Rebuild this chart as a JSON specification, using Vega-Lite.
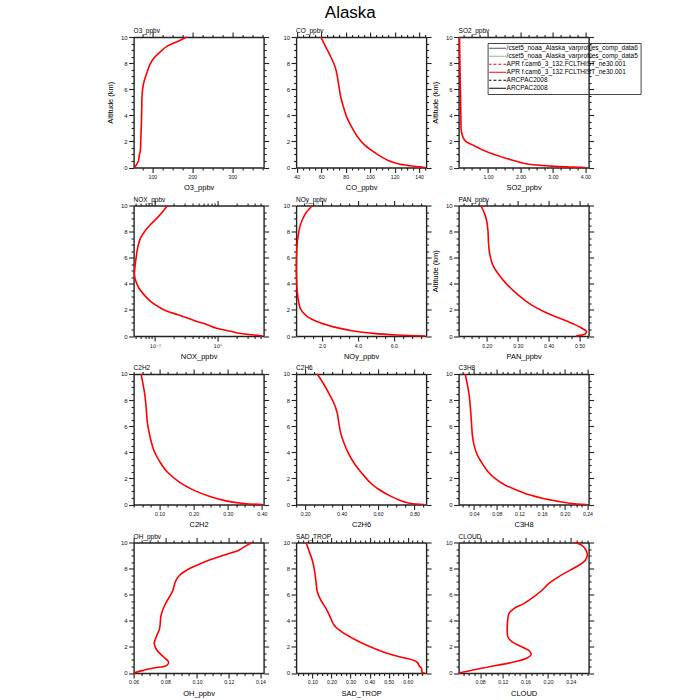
{
  "$schema": "https://vega.github.io/schema/vega-lite/v6.json",
  "title": {"text": "Alaska", "fontSize": 17, "anchor": "middle", "frame": "group", "dx": 216.7, "offset": 6},
  "padding": {"left": 105.6, "top": 4, "right": 5, "bottom": 2},
  "columns": 3,
  "spacing": {"row": 37.5, "column": 32.5},
  "bounds": "flush",
  "concat": [
    {
      "width": 130, "height": 130.5, "title": "O3_ppbv",
      "data": {"values": [
        {"alt": 0, "v": 55}, {"alt": 0.15, "v": 59}, {"alt": 0.5, "v": 65}, {"alt": 1, "v": 67.6}, {"alt": 1.3, "v": 70},
        {"alt": 2, "v": 70.8}, {"alt": 2.8, "v": 71.8}, {"alt": 3.7, "v": 72.8}, {"alt": 4.6, "v": 73.4}, {"alt": 5.6, "v": 74.3},
        {"alt": 6.4, "v": 77.6}, {"alt": 7.15, "v": 85}, {"alt": 7.9, "v": 94}, {"alt": 8.4, "v": 104}, {"alt": 8.9, "v": 121},
        {"alt": 9.3, "v": 137}, {"alt": 9.7, "v": 166}, {"alt": 10, "v": 185.5}
      ]},
      "layer": [
        {"mark": {"type": "line", "color": "#ff0000", "strokeWidth": 1.6, "interpolate": "catmull-rom"},
         "encoding": {
           "x": {"field": "v", "type": "quantitative", "scale": {"domain": [53, 378], "nice": false, "zero": false},
                 "axis": {"title": "O3_ppbv", "values": [75,100,125,150,175,200,225,250,275,300,325,350,375],
                          "labelExpr": "datum.value % 100 === 0 ? format(datum.value, 'd') : ''",
                          "tickSize": {"condition": {"test": "datum.value % 100 === 0", "value": 5}, "value": 2.5}}},
           "y": {"field": "alt", "type": "quantitative", "scale": {"domain": [0, 10], "nice": false},
                 "axis": {"title": "Altitude (km)", "values": [0,0.5,1,1.5,2,2.5,3,3.5,4,4.5,5,5.5,6,6.5,7,7.5,8,8.5,9,9.5,10],
                          "labelExpr": "datum.value % 2 === 0 ? format(datum.value, 'd') : ''",
                          "tickSize": {"condition": {"test": "datum.value % 2 === 0", "value": 5}, "value": 2.5}}},
           "order": {"field": "alt", "type": "quantitative"}
         }},
        {"mark": {"type": "line", "opacity": 0},
         "encoding": {
           "x": {"field": "v", "type": "quantitative",
                 "axis": {"orient": "top", "labels": false, "title": null, "values": [75,100,125,150,175,200,225,250,275,300,325,350,375],
                          "tickSize": {"condition": {"test": "datum.value % 100 === 0", "value": 5}, "value": 2.5}}},
           "y": {"field": "alt", "type": "quantitative",
                 "axis": {"orient": "right", "labels": false, "title": null, "values": [0,0.5,1,1.5,2,2.5,3,3.5,4,4.5,5,5.5,6,6.5,7,7.5,8,8.5,9,9.5,10],
                          "tickSize": {"condition": {"test": "datum.value % 2 === 0", "value": 5}, "value": 2.5}}},
           "order": {"field": "alt", "type": "quantitative"}
         }}
      ],
      "resolve": {"axis": {"x": "independent", "y": "independent"}}
    },
    {
      "width": 130, "height": 130.5, "title": "CO_ppbv",
      "data": {"values": [
        {"alt": 0, "v": 144.8}, {"alt": 0.05, "v": 140.5}, {"alt": 0.13, "v": 132.4}, {"alt": 0.28, "v": 122.9}, {"alt": 0.54, "v": 114.7},
        {"alt": 1.05, "v": 105.3}, {"alt": 1.69, "v": 95.8}, {"alt": 2.33, "v": 89.8}, {"alt": 3.1, "v": 84.9}, {"alt": 3.86, "v": 80.9},
        {"alt": 4.63, "v": 78.2}, {"alt": 5.4, "v": 76}, {"alt": 6.16, "v": 74.6}, {"alt": 6.93, "v": 73.3}, {"alt": 7.7, "v": 71.4},
        {"alt": 8.47, "v": 67.9}, {"alt": 9.23, "v": 63.8}, {"alt": 10, "v": 59.7}
      ]},
      "layer": [
        {"mark": {"type": "line", "color": "#ff0000", "strokeWidth": 1.6, "interpolate": "catmull-rom"},
         "encoding": {
           "x": {"field": "v", "type": "quantitative", "scale": {"domain": [39.5, 145.7], "nice": false, "zero": false},
                 "axis": {"title": "CO_ppbv", "values": [40,45,50,55,60,65,70,75,80,85,90,95,100,105,110,115,120,125,130,135,140,145],
                          "labelExpr": "datum.value % 20 === 0 ? format(datum.value, 'd') : ''",
                          "tickSize": {"condition": {"test": "datum.value % 20 === 0", "value": 5}, "value": 2.5}}},
           "y": {"field": "alt", "type": "quantitative", "scale": {"domain": [0, 10], "nice": false},
                 "axis": {"title": null, "values": [0,0.5,1,1.5,2,2.5,3,3.5,4,4.5,5,5.5,6,6.5,7,7.5,8,8.5,9,9.5,10],
                          "labelExpr": "datum.value % 2 === 0 ? format(datum.value, 'd') : ''",
                          "tickSize": {"condition": {"test": "datum.value % 2 === 0", "value": 5}, "value": 2.5}}},
           "order": {"field": "alt", "type": "quantitative"}
         }},
        {"mark": {"type": "line", "opacity": 0},
         "encoding": {
           "x": {"field": "v", "type": "quantitative",
                 "axis": {"orient": "top", "labels": false, "title": null, "values": [40,45,50,55,60,65,70,75,80,85,90,95,100,105,110,115,120,125,130,135,140,145],
                          "tickSize": {"condition": {"test": "datum.value % 20 === 0", "value": 5}, "value": 2.5}}},
           "y": {"field": "alt", "type": "quantitative",
                 "axis": {"orient": "right", "labels": false, "title": null, "values": [0,0.5,1,1.5,2,2.5,3,3.5,4,4.5,5,5.5,6,6.5,7,7.5,8,8.5,9,9.5,10],
                          "tickSize": {"condition": {"test": "datum.value % 2 === 0", "value": 5}, "value": 2.5}}},
           "order": {"field": "alt", "type": "quantitative"}
         }}
      ],
      "resolve": {"axis": {"x": "independent", "y": "independent"}}
    },
    {
      "width": 130, "height": 130.5, "title": "SO2_ppbv",
      "data": {"values": [
        {"run": "APR f.cam6_3_132.FCLTHIST_ne30.001", "alt": 0, "v": 3.99},
        {"run": "APR f.cam6_3_132.FCLTHIST_ne30.001", "alt": 0.05, "v": 3.43},
        {"run": "APR f.cam6_3_132.FCLTHIST_ne30.001", "alt": 0.13, "v": 2.82},
        {"run": "APR f.cam6_3_132.FCLTHIST_ne30.001", "alt": 0.28, "v": 2.2},
        {"run": "APR f.cam6_3_132.FCLTHIST_ne30.001", "alt": 0.53, "v": 1.8},
        {"run": "APR f.cam6_3_132.FCLTHIST_ne30.001", "alt": 0.92, "v": 1.29},
        {"run": "APR f.cam6_3_132.FCLTHIST_ne30.001", "alt": 1.3, "v": 0.88},
        {"run": "APR f.cam6_3_132.FCLTHIST_ne30.001", "alt": 1.68, "v": 0.57},
        {"run": "APR f.cam6_3_132.FCLTHIST_ne30.001", "alt": 2.0, "v": 0.32},
        {"run": "APR f.cam6_3_132.FCLTHIST_ne30.001", "alt": 2.3, "v": 0.235},
        {"run": "APR f.cam6_3_132.FCLTHIST_ne30.001", "alt": 2.8, "v": 0.18},
        {"run": "APR f.cam6_3_132.FCLTHIST_ne30.001", "alt": 4, "v": 0.165},
        {"run": "APR f.cam6_3_132.FCLTHIST_ne30.001", "alt": 6, "v": 0.15},
        {"run": "APR f.cam6_3_132.FCLTHIST_ne30.001", "alt": 8, "v": 0.135},
        {"run": "APR f.cam6_3_132.FCLTHIST_ne30.001", "alt": 10, "v": 0.122}
      ]},
      "layer": [
        {"mark": {"type": "line", "strokeWidth": 1.6, "interpolate": "catmull-rom"},
         "encoding": {
           "x": {"field": "v", "type": "quantitative", "scale": {"domain": [0.095, 4.1], "nice": false, "zero": false},
                 "axis": {"title": "SO2_ppbv", "values": [0.25,0.5,0.75,1,1.25,1.5,1.75,2,2.25,2.5,2.75,3,3.25,3.5,3.75,4],
                          "labelExpr": "datum.value % 1 === 0 ? format(datum.value, '.2f') : ''",
                          "tickSize": {"condition": {"test": "datum.value % 1 === 0", "value": 5}, "value": 2.5}}},
           "y": {"field": "alt", "type": "quantitative", "scale": {"domain": [0, 10], "nice": false},
                 "axis": {"title": "Altitude (km)", "values": [0,0.5,1,1.5,2,2.5,3,3.5,4,4.5,5,5.5,6,6.5,7,7.5,8,8.5,9,9.5,10],
                          "labelExpr": "datum.value % 2 === 0 ? format(datum.value, 'd') : ''",
                          "tickSize": {"condition": {"test": "datum.value % 2 === 0", "value": 5}, "value": 2.5}}},
           "order": {"field": "alt", "type": "quantitative"},
           "color": {"field": "run", "type": "nominal",
                     "scale": {"domain": ["/cset5_noaa_Alaska_varprofiles_comp_data6", "/cset5_noaa_Alaska_varprofiles_comp_data5", "APR f.cam6_3_132.FCLTHIST_ne30.001 (dashed)", "APR f.cam6_3_132.FCLTHIST_ne30.001", "ARCPAC2008 (dashed)", "ARCPAC2008"],
                               "range": ["#555555", "#aaaaaa", "#ff0000", "#ff0000", "#000000", "#000000"]},
                     "legend": {"orient": "none", "legendX": 354, "legendY": 6, "title": null, "symbolType": "M-4.4,0H4.4", "symbolSize": 16, "symbolStrokeWidth": 1.1,
                                "labelFontSize": 6.5, "labelLimit": 0, "padding": 1.5, "rowPadding": -1.7, "clipHeight": 7.5, "strokeColor": "#444", "symbolOffset": 4.85, "labelOffset": 6.15,
                                "labelExpr": "replace(datum.label, ' (dashed)', '')"}},
           "strokeDash": {"field": "run", "type": "nominal",
                     "scale": {"domain": ["/cset5_noaa_Alaska_varprofiles_comp_data6", "/cset5_noaa_Alaska_varprofiles_comp_data5", "APR f.cam6_3_132.FCLTHIST_ne30.001 (dashed)", "APR f.cam6_3_132.FCLTHIST_ne30.001", "ARCPAC2008 (dashed)", "ARCPAC2008"],
                               "range": [[1, 0], [1, 0], [3, 2], [1, 0], [3, 2], [1, 0]]},
                     "legend": {"orient": "none", "legendX": 354, "legendY": 6, "title": null, "symbolType": "M-4.4,0H4.4", "symbolSize": 16, "symbolStrokeWidth": 1.1,
                                "labelFontSize": 6.5, "labelLimit": 0, "padding": 1.5, "rowPadding": -1.7, "clipHeight": 7.5, "strokeColor": "#444", "symbolOffset": 4.85, "labelOffset": 6.15,
                                "labelExpr": "replace(datum.label, ' (dashed)', '')"}}
         }},
        {"mark": {"type": "line", "opacity": 0},
         "encoding": {
           "x": {"field": "v", "type": "quantitative",
                 "axis": {"orient": "top", "labels": false, "title": null, "values": [0.25,0.5,0.75,1,1.25,1.5,1.75,2,2.25,2.5,2.75,3,3.25,3.5,3.75,4],
                          "tickSize": {"condition": {"test": "datum.value % 1 === 0", "value": 5}, "value": 2.5}}},
           "y": {"field": "alt", "type": "quantitative",
                 "axis": {"orient": "right", "labels": false, "title": null, "values": [0,0.5,1,1.5,2,2.5,3,3.5,4,4.5,5,5.5,6,6.5,7,7.5,8,8.5,9,9.5,10],
                          "tickSize": {"condition": {"test": "datum.value % 2 === 0", "value": 5}, "value": 2.5}}},
           "order": {"field": "alt", "type": "quantitative"}
         }}
      ],
      "resolve": {"axis": {"x": "independent", "y": "independent"}}
    },
    {
      "width": 130, "height": 130.5, "title": "NOX_ppbv",
      "data": {"values": [
        {"alt": 0, "v": 5.3}, {"alt": 0.05, "v": 4.4}, {"alt": 0.23, "v": 2.1}, {"alt": 0.36, "v": 1.64}, {"alt": 0.61, "v": 0.95},
        {"alt": 0.87, "v": 0.69}, {"alt": 1.13, "v": 0.46}, {"alt": 1.38, "v": 0.33}, {"alt": 1.64, "v": 0.23}, {"alt": 1.9, "v": 0.158},
        {"alt": 2.15, "v": 0.123}, {"alt": 2.66, "v": 0.085}, {"alt": 3.17, "v": 0.0667}, {"alt": 3.68, "v": 0.0553}, {"alt": 4.19, "v": 0.0496},
        {"alt": 4.7, "v": 0.047}, {"alt": 5.2, "v": 0.0477}, {"alt": 5.98, "v": 0.05}, {"alt": 6.75, "v": 0.053}, {"alt": 7.52, "v": 0.059},
        {"alt": 8.03, "v": 0.069}, {"alt": 8.54, "v": 0.085}, {"alt": 9.05, "v": 0.109}, {"alt": 9.57, "v": 0.136}, {"alt": 10, "v": 0.158}
      ]},
      "layer": [
        {"mark": {"type": "line", "color": "#ff0000", "strokeWidth": 1.6, "interpolate": "catmull-rom"},
         "encoding": {
           "x": {"field": "v", "type": "quantitative", "scale": {"type": "log", "domain": [0.0456, 5.5], "nice": false},
                 "axis": {"title": "NOX_ppbv", "labelFont": "DejaVu Sans", "values": [0.05,0.06,0.07,0.08,0.09,0.1,0.2,0.3,0.4,0.5,0.6,0.7,0.8,0.9,1,2,3,4,5],
                          "labelExpr": "datum.value === 0.1 ? '10⁻¹' : datum.value === 1 ? '10⁰' : ''",
                          "tickSize": {"condition": {"test": "datum.value === 0.1 || datum.value === 1", "value": 5}, "value": 2.5}}},
           "y": {"field": "alt", "type": "quantitative", "scale": {"domain": [0, 10], "nice": false},
                 "axis": {"title": null, "values": [0,0.5,1,1.5,2,2.5,3,3.5,4,4.5,5,5.5,6,6.5,7,7.5,8,8.5,9,9.5,10],
                          "labelExpr": "datum.value % 2 === 0 ? format(datum.value, 'd') : ''",
                          "tickSize": {"condition": {"test": "datum.value % 2 === 0", "value": 5}, "value": 2.5}}},
           "order": {"field": "alt", "type": "quantitative"}
         }},
        {"mark": {"type": "line", "opacity": 0},
         "encoding": {
           "x": {"field": "v", "type": "quantitative",
                 "axis": {"orient": "top", "labels": false, "title": null, "values": [0.05,0.06,0.07,0.08,0.09,0.1,0.2,0.3,0.4,0.5,0.6,0.7,0.8,0.9,1,2,3,4,5],
                          "tickSize": {"condition": {"test": "datum.value === 0.1 || datum.value === 1", "value": 5}, "value": 2.5}}},
           "y": {"field": "alt", "type": "quantitative",
                 "axis": {"orient": "right", "labels": false, "title": null, "values": [0,0.5,1,1.5,2,2.5,3,3.5,4,4.5,5,5.5,6,6.5,7,7.5,8,8.5,9,9.5,10],
                          "tickSize": {"condition": {"test": "datum.value % 2 === 0", "value": 5}, "value": 2.5}}},
           "order": {"field": "alt", "type": "quantitative"}
         }}
      ],
      "resolve": {"axis": {"x": "independent", "y": "independent"}}
    },
    {
      "width": 130, "height": 130.5, "title": "NOy_ppbv",
      "data": {"values": [
        {"alt": 0, "v": 7.75}, {"alt": 0.08, "v": 6.17}, {"alt": 0.2, "v": 4.87}, {"alt": 0.38, "v": 3.75}, {"alt": 0.64, "v": 2.82},
        {"alt": 1.02, "v": 1.89}, {"alt": 1.53, "v": 1.14}, {"alt": 2.04, "v": 0.81}, {"alt": 2.55, "v": 0.7}, {"alt": 3.32, "v": 0.62},
        {"alt": 4.6, "v": 0.567}, {"alt": 5.87, "v": 0.567}, {"alt": 6.89, "v": 0.6}, {"alt": 7.65, "v": 0.66}, {"alt": 8.42, "v": 0.77},
        {"alt": 8.93, "v": 0.9}, {"alt": 9.44, "v": 1.107}, {"alt": 10, "v": 1.46}
      ]},
      "layer": [
        {"mark": {"type": "line", "color": "#ff0000", "strokeWidth": 1.6, "interpolate": "catmull-rom"},
         "encoding": {
           "x": {"field": "v", "type": "quantitative", "scale": {"domain": [0.55, 7.8], "nice": false, "zero": false},
                 "axis": {"title": "NOy_ppbv", "values": [1,1.5,2,2.5,3,3.5,4,4.5,5,5.5,6,6.5,7,7.5],
                          "labelExpr": "datum.value % 2 === 0 ? format(datum.value, '.1f') : ''",
                          "tickSize": {"condition": {"test": "datum.value % 2 === 0", "value": 5}, "value": 2.5}}},
           "y": {"field": "alt", "type": "quantitative", "scale": {"domain": [0, 10], "nice": false},
                 "axis": {"title": null, "values": [0,0.5,1,1.5,2,2.5,3,3.5,4,4.5,5,5.5,6,6.5,7,7.5,8,8.5,9,9.5,10],
                          "labelExpr": "datum.value % 2 === 0 ? format(datum.value, 'd') : ''",
                          "tickSize": {"condition": {"test": "datum.value % 2 === 0", "value": 5}, "value": 2.5}}},
           "order": {"field": "alt", "type": "quantitative"}
         }},
        {"mark": {"type": "line", "opacity": 0},
         "encoding": {
           "x": {"field": "v", "type": "quantitative",
                 "axis": {"orient": "top", "labels": false, "title": null, "values": [1,1.5,2,2.5,3,3.5,4,4.5,5,5.5,6,6.5,7,7.5],
                          "tickSize": {"condition": {"test": "datum.value % 2 === 0", "value": 5}, "value": 2.5}}},
           "y": {"field": "alt", "type": "quantitative",
                 "axis": {"orient": "right", "labels": false, "title": null, "values": [0,0.5,1,1.5,2,2.5,3,3.5,4,4.5,5,5.5,6,6.5,7,7.5,8,8.5,9,9.5,10],
                          "tickSize": {"condition": {"test": "datum.value % 2 === 0", "value": 5}, "value": 2.5}}},
           "order": {"field": "alt", "type": "quantitative"}
         }}
      ],
      "resolve": {"axis": {"x": "independent", "y": "independent"}}
    },
    {
      "width": 130, "height": 130.5, "title": "PAN_ppbv",
      "data": {"values": [
        {"alt": 0, "v": 0.488}, {"alt": 0.05, "v": 0.5}, {"alt": 0.15, "v": 0.517}, {"alt": 0.36, "v": 0.522}, {"alt": 0.61, "v": 0.506},
        {"alt": 0.87, "v": 0.485}, {"alt": 1.25, "v": 0.448}, {"alt": 1.76, "v": 0.394}, {"alt": 2.4, "v": 0.343}, {"alt": 3.17, "v": 0.3},
        {"alt": 3.94, "v": 0.266}, {"alt": 4.7, "v": 0.239}, {"alt": 5.47, "v": 0.219}, {"alt": 6.24, "v": 0.21}, {"alt": 7.0, "v": 0.206},
        {"alt": 8.03, "v": 0.204}, {"alt": 8.8, "v": 0.2}, {"alt": 9.3, "v": 0.194}, {"alt": 10, "v": 0.181}
      ]},
      "layer": [
        {"mark": {"type": "line", "color": "#ff0000", "strokeWidth": 1.6, "interpolate": "catmull-rom"},
         "encoding": {
           "x": {"field": "v", "type": "quantitative", "scale": {"domain": [0.109, 0.529], "nice": false, "zero": false},
                 "axis": {"title": "PAN_ppbv", "values": [0.125,0.15,0.175,0.2,0.225,0.25,0.275,0.3,0.325,0.35,0.375,0.4,0.425,0.45,0.475,0.5,0.525],
                          "labelExpr": "abs(datum.value*10 - round(datum.value*10)) < 1e-6 ? format(datum.value, '.2f') : ''",
                          "tickSize": {"condition": {"test": "abs(datum.value*10 - round(datum.value*10)) < 1e-6", "value": 5}, "value": 2.5}}},
           "y": {"field": "alt", "type": "quantitative", "scale": {"domain": [0, 10], "nice": false},
                 "axis": {"title": "Altitude (km)", "values": [0,0.5,1,1.5,2,2.5,3,3.5,4,4.5,5,5.5,6,6.5,7,7.5,8,8.5,9,9.5,10],
                          "labelExpr": "datum.value % 2 === 0 ? format(datum.value, 'd') : ''",
                          "tickSize": {"condition": {"test": "datum.value % 2 === 0", "value": 5}, "value": 2.5}}},
           "order": {"field": "alt", "type": "quantitative"}
         }},
        {"mark": {"type": "line", "opacity": 0},
         "encoding": {
           "x": {"field": "v", "type": "quantitative",
                 "axis": {"orient": "top", "labels": false, "title": null, "values": [0.125,0.15,0.175,0.2,0.225,0.25,0.275,0.3,0.325,0.35,0.375,0.4,0.425,0.45,0.475,0.5,0.525],
                          "tickSize": {"condition": {"test": "abs(datum.value*10 - round(datum.value*10)) < 1e-6", "value": 5}, "value": 2.5}}},
           "y": {"field": "alt", "type": "quantitative",
                 "axis": {"orient": "right", "labels": false, "title": null, "values": [0,0.5,1,1.5,2,2.5,3,3.5,4,4.5,5,5.5,6,6.5,7,7.5,8,8.5,9,9.5,10],
                          "tickSize": {"condition": {"test": "datum.value % 2 === 0", "value": 5}, "value": 2.5}}},
           "order": {"field": "alt", "type": "quantitative"}
         }}
      ],
      "resolve": {"axis": {"x": "independent", "y": "independent"}}
    },
    {
      "width": 130, "height": 130.5, "title": "C2H2",
      "data": {"values": [
        {"alt": 0, "v": 0.401}, {"alt": 0.08, "v": 0.347}, {"alt": 0.26, "v": 0.298}, {"alt": 0.59, "v": 0.25}, {"alt": 1.1, "v": 0.2},
        {"alt": 1.74, "v": 0.157}, {"alt": 2.51, "v": 0.122}, {"alt": 3.27, "v": 0.101}, {"alt": 4.04, "v": 0.085}, {"alt": 4.81, "v": 0.0756},
        {"alt": 5.58, "v": 0.069}, {"alt": 6.34, "v": 0.064}, {"alt": 7.37, "v": 0.061}, {"alt": 8.39, "v": 0.057}, {"alt": 9.16, "v": 0.052},
        {"alt": 10, "v": 0.046}
      ]},
      "layer": [
        {"mark": {"type": "line", "color": "#ff0000", "strokeWidth": 1.6, "interpolate": "catmull-rom"},
         "encoding": {
           "x": {"field": "v", "type": "quantitative", "scale": {"domain": [0.024, 0.405], "nice": false, "zero": false},
                 "axis": {"title": "C2H2", "values": [0.025,0.05,0.075,0.1,0.125,0.15,0.175,0.2,0.225,0.25,0.275,0.3,0.325,0.35,0.375,0.4],
                          "labelExpr": "abs(datum.value*10 - round(datum.value*10)) < 1e-6 ? format(datum.value, '.2f') : ''",
                          "tickSize": {"condition": {"test": "abs(datum.value*10 - round(datum.value*10)) < 1e-6", "value": 5}, "value": 2.5}}},
           "y": {"field": "alt", "type": "quantitative", "scale": {"domain": [0, 10], "nice": false},
                 "axis": {"title": null, "values": [0,0.5,1,1.5,2,2.5,3,3.5,4,4.5,5,5.5,6,6.5,7,7.5,8,8.5,9,9.5,10],
                          "labelExpr": "datum.value % 2 === 0 ? format(datum.value, 'd') : ''",
                          "tickSize": {"condition": {"test": "datum.value % 2 === 0", "value": 5}, "value": 2.5}}},
           "order": {"field": "alt", "type": "quantitative"}
         }},
        {"mark": {"type": "line", "opacity": 0},
         "encoding": {
           "x": {"field": "v", "type": "quantitative",
                 "axis": {"orient": "top", "labels": false, "title": null, "values": [0.025,0.05,0.075,0.1,0.125,0.15,0.175,0.2,0.225,0.25,0.275,0.3,0.325,0.35,0.375,0.4],
                          "tickSize": {"condition": {"test": "abs(datum.value*10 - round(datum.value*10)) < 1e-6", "value": 5}, "value": 2.5}}},
           "y": {"field": "alt", "type": "quantitative",
                 "axis": {"orient": "right", "labels": false, "title": null, "values": [0,0.5,1,1.5,2,2.5,3,3.5,4,4.5,5,5.5,6,6.5,7,7.5,8,8.5,9,9.5,10],
                          "tickSize": {"condition": {"test": "datum.value % 2 === 0", "value": 5}, "value": 2.5}}},
           "order": {"field": "alt", "type": "quantitative"}
         }}
      ],
      "resolve": {"axis": {"x": "independent", "y": "independent"}}
    },
    {
      "width": 130, "height": 130.5, "title": "C2H6",
      "data": {"values": [
        {"alt": 0, "v": 0.852}, {"alt": 0.08, "v": 0.779}, {"alt": 0.25, "v": 0.733}, {"alt": 0.64, "v": 0.669}, {"alt": 1.15, "v": 0.605},
        {"alt": 1.65, "v": 0.559}, {"alt": 2.42, "v": 0.51}, {"alt": 3.18, "v": 0.468}, {"alt": 3.94, "v": 0.437}, {"alt": 4.71, "v": 0.413},
        {"alt": 5.47, "v": 0.395}, {"alt": 6.23, "v": 0.385}, {"alt": 7.0, "v": 0.376}, {"alt": 7.76, "v": 0.358}, {"alt": 8.52, "v": 0.33},
        {"alt": 9.29, "v": 0.299}, {"alt": 10, "v": 0.266}
      ]},
      "layer": [
        {"mark": {"type": "line", "color": "#ff0000", "strokeWidth": 1.6, "interpolate": "catmull-rom"},
         "encoding": {
           "x": {"field": "v", "type": "quantitative", "scale": {"domain": [0.15, 0.864], "nice": false, "zero": false},
                 "axis": {"title": "C2H6", "values": [0.15,0.2,0.25,0.3,0.35,0.4,0.45,0.5,0.55,0.6,0.65,0.7,0.75,0.8,0.85],
                          "labelExpr": "abs(datum.value*5 - round(datum.value*5)) < 1e-6 ? format(datum.value, '.2f') : ''",
                          "tickSize": {"condition": {"test": "abs(datum.value*5 - round(datum.value*5)) < 1e-6", "value": 5}, "value": 2.5}}},
           "y": {"field": "alt", "type": "quantitative", "scale": {"domain": [0, 10], "nice": false},
                 "axis": {"title": null, "values": [0,0.5,1,1.5,2,2.5,3,3.5,4,4.5,5,5.5,6,6.5,7,7.5,8,8.5,9,9.5,10],
                          "labelExpr": "datum.value % 2 === 0 ? format(datum.value, 'd') : ''",
                          "tickSize": {"condition": {"test": "datum.value % 2 === 0", "value": 5}, "value": 2.5}}},
           "order": {"field": "alt", "type": "quantitative"}
         }},
        {"mark": {"type": "line", "opacity": 0},
         "encoding": {
           "x": {"field": "v", "type": "quantitative",
                 "axis": {"orient": "top", "labels": false, "title": null, "values": [0.15,0.2,0.25,0.3,0.35,0.4,0.45,0.5,0.55,0.6,0.65,0.7,0.75,0.8,0.85],
                          "tickSize": {"condition": {"test": "abs(datum.value*5 - round(datum.value*5)) < 1e-6", "value": 5}, "value": 2.5}}},
           "y": {"field": "alt", "type": "quantitative",
                 "axis": {"orient": "right", "labels": false, "title": null, "values": [0,0.5,1,1.5,2,2.5,3,3.5,4,4.5,5,5.5,6,6.5,7,7.5,8,8.5,9,9.5,10],
                          "tickSize": {"condition": {"test": "datum.value % 2 === 0", "value": 5}, "value": 2.5}}},
           "order": {"field": "alt", "type": "quantitative"}
         }}
      ],
      "resolve": {"axis": {"x": "independent", "y": "independent"}}
    },
    {
      "width": 130, "height": 130.5, "title": "C3H8",
      "data": {"values": [
        {"alt": 0, "v": 0.238}, {"alt": 0.1, "v": 0.209}, {"alt": 0.26, "v": 0.186}, {"alt": 0.46, "v": 0.162}, {"alt": 0.72, "v": 0.139},
        {"alt": 1.1, "v": 0.116}, {"alt": 1.48, "v": 0.095}, {"alt": 2.0, "v": 0.077}, {"alt": 2.51, "v": 0.0645}, {"alt": 3.02, "v": 0.0563},
        {"alt": 3.78, "v": 0.0458}, {"alt": 4.55, "v": 0.04}, {"alt": 5.32, "v": 0.037}, {"alt": 6.34, "v": 0.0353}, {"alt": 7.37, "v": 0.0336},
        {"alt": 8.39, "v": 0.0313}, {"alt": 9.16, "v": 0.0283}, {"alt": 10, "v": 0.0243}
      ]},
      "layer": [
        {"mark": {"type": "line", "color": "#ff0000", "strokeWidth": 1.6, "interpolate": "catmull-rom"},
         "encoding": {
           "x": {"field": "v", "type": "quantitative", "scale": {"domain": [0.0127, 0.242], "nice": false, "zero": false},
                 "axis": {"title": "C3H8", "values": [0.02,0.03,0.04,0.05,0.06,0.07,0.08,0.09,0.1,0.11,0.12,0.13,0.14,0.15,0.16,0.17,0.18,0.19,0.2,0.21,0.22,0.23,0.24],
                          "labelExpr": "abs(datum.value*25 - round(datum.value*25)) < 1e-6 ? format(datum.value, '.2f') : ''",
                          "tickSize": {"condition": {"test": "abs(datum.value*25 - round(datum.value*25)) < 1e-6", "value": 5}, "value": 2.5}}},
           "y": {"field": "alt", "type": "quantitative", "scale": {"domain": [0, 10], "nice": false},
                 "axis": {"title": null, "values": [0,0.5,1,1.5,2,2.5,3,3.5,4,4.5,5,5.5,6,6.5,7,7.5,8,8.5,9,9.5,10],
                          "labelExpr": "datum.value % 2 === 0 ? format(datum.value, 'd') : ''",
                          "tickSize": {"condition": {"test": "datum.value % 2 === 0", "value": 5}, "value": 2.5}}},
           "order": {"field": "alt", "type": "quantitative"}
         }},
        {"mark": {"type": "line", "opacity": 0},
         "encoding": {
           "x": {"field": "v", "type": "quantitative",
                 "axis": {"orient": "top", "labels": false, "title": null, "values": [0.02,0.03,0.04,0.05,0.06,0.07,0.08,0.09,0.1,0.11,0.12,0.13,0.14,0.15,0.16,0.17,0.18,0.19,0.2,0.21,0.22,0.23,0.24],
                          "tickSize": {"condition": {"test": "abs(datum.value*25 - round(datum.value*25)) < 1e-6", "value": 5}, "value": 2.5}}},
           "y": {"field": "alt", "type": "quantitative",
                 "axis": {"orient": "right", "labels": false, "title": null, "values": [0,0.5,1,1.5,2,2.5,3,3.5,4,4.5,5,5.5,6,6.5,7,7.5,8,8.5,9,9.5,10],
                          "tickSize": {"condition": {"test": "datum.value % 2 === 0", "value": 5}, "value": 2.5}}},
           "order": {"field": "alt", "type": "quantitative"}
         }}
      ],
      "resolve": {"axis": {"x": "independent", "y": "independent"}}
    },
    {
      "width": 130, "height": 130.5, "title": "OH_ppbv",
      "data": {"values": [
        {"alt": 0, "v": 0.06}, {"alt": 0.18, "v": 0.0653}, {"alt": 0.38, "v": 0.0726}, {"alt": 0.59, "v": 0.081}, {"alt": 0.84, "v": 0.0821},
        {"alt": 1.23, "v": 0.0789}, {"alt": 1.74, "v": 0.0747}, {"alt": 2.25, "v": 0.073}, {"alt": 2.89, "v": 0.0747}, {"alt": 3.4, "v": 0.0764},
        {"alt": 4.42, "v": 0.0773}, {"alt": 5.19, "v": 0.0796}, {"alt": 5.96, "v": 0.0832}, {"alt": 6.34, "v": 0.0848}, {"alt": 6.98, "v": 0.0863},
        {"alt": 7.49, "v": 0.089}, {"alt": 7.88, "v": 0.0935}, {"alt": 8.26, "v": 0.1}, {"alt": 8.64, "v": 0.1074}, {"alt": 9.03, "v": 0.1168},
        {"alt": 9.41, "v": 0.1263}, {"alt": 9.8, "v": 0.1316}, {"alt": 10, "v": 0.1347}
      ]},
      "layer": [
        {"mark": {"type": "line", "color": "#ff0000", "strokeWidth": 1.6, "interpolate": "catmull-rom"},
         "encoding": {
           "x": {"field": "v", "type": "quantitative", "scale": {"domain": [0.06, 0.142], "nice": false, "zero": false},
                 "axis": {"title": "OH_ppbv", "values": [0.06,0.065,0.07,0.075,0.08,0.085,0.09,0.095,0.1,0.105,0.11,0.115,0.12,0.125,0.13,0.135,0.14],
                          "labelExpr": "abs(datum.value*50 - round(datum.value*50)) < 1e-6 ? format(datum.value, '.2f') : ''",
                          "tickSize": {"condition": {"test": "abs(datum.value*50 - round(datum.value*50)) < 1e-6", "value": 5}, "value": 2.5}}},
           "y": {"field": "alt", "type": "quantitative", "scale": {"domain": [0, 10], "nice": false},
                 "axis": {"title": null, "values": [0,0.5,1,1.5,2,2.5,3,3.5,4,4.5,5,5.5,6,6.5,7,7.5,8,8.5,9,9.5,10],
                          "labelExpr": "datum.value % 2 === 0 ? format(datum.value, 'd') : ''",
                          "tickSize": {"condition": {"test": "datum.value % 2 === 0", "value": 5}, "value": 2.5}}},
           "order": {"field": "alt", "type": "quantitative"}
         }},
        {"mark": {"type": "line", "opacity": 0},
         "encoding": {
           "x": {"field": "v", "type": "quantitative",
                 "axis": {"orient": "top", "labels": false, "title": null, "values": [0.06,0.065,0.07,0.075,0.08,0.085,0.09,0.095,0.1,0.105,0.11,0.115,0.12,0.125,0.13,0.135,0.14],
                          "tickSize": {"condition": {"test": "abs(datum.value*50 - round(datum.value*50)) < 1e-6", "value": 5}, "value": 2.5}}},
           "y": {"field": "alt", "type": "quantitative",
                 "axis": {"orient": "right", "labels": false, "title": null, "values": [0,0.5,1,1.5,2,2.5,3,3.5,4,4.5,5,5.5,6,6.5,7,7.5,8,8.5,9,9.5,10],
                          "tickSize": {"condition": {"test": "datum.value % 2 === 0", "value": 5}, "value": 2.5}}},
           "order": {"field": "alt", "type": "quantitative"}
         }}
      ],
      "resolve": {"axis": {"x": "independent", "y": "independent"}}
    },
    {
      "width": 130, "height": 130.5, "title": "SAD_TROP",
      "data": {"values": [
        {"alt": 0, "v": 0.688}, {"alt": 0.05, "v": 0.675}, {"alt": 0.18, "v": 0.673}, {"alt": 0.33, "v": 0.673}, {"alt": 0.54, "v": 0.661},
        {"alt": 0.79, "v": 0.651}, {"alt": 0.97, "v": 0.63}, {"alt": 1.23, "v": 0.56}, {"alt": 1.61, "v": 0.472}, {"alt": 2.12, "v": 0.385},
        {"alt": 2.63, "v": 0.315}, {"alt": 3.15, "v": 0.254}, {"alt": 3.66, "v": 0.214}, {"alt": 4.3, "v": 0.193}, {"alt": 4.94, "v": 0.172},
        {"alt": 5.58, "v": 0.144}, {"alt": 6.21, "v": 0.126}, {"alt": 6.98, "v": 0.119}, {"alt": 7.75, "v": 0.112}, {"alt": 8.52, "v": 0.1017},
        {"alt": 9.28, "v": 0.0843}, {"alt": 10, "v": 0.0668}
      ]},
      "layer": [
        {"mark": {"type": "line", "color": "#ff0000", "strokeWidth": 1.6, "interpolate": "catmull-rom"},
         "encoding": {
           "x": {"field": "v", "type": "quantitative", "scale": {"domain": [0.0145, 0.696], "nice": false, "zero": false},
                 "axis": {"title": "SAD_TROP", "values": [0.025,0.05,0.075,0.1,0.125,0.15,0.175,0.2,0.225,0.25,0.275,0.3,0.325,0.35,0.375,0.4,0.425,0.45,0.475,0.5,0.525,0.55,0.575,0.6,0.625,0.65,0.675],
                          "labelExpr": "abs(datum.value*10 - round(datum.value*10)) < 1e-6 ? format(datum.value, '.2f') : ''",
                          "tickSize": {"condition": {"test": "abs(datum.value*10 - round(datum.value*10)) < 1e-6", "value": 5}, "value": 2.5}}},
           "y": {"field": "alt", "type": "quantitative", "scale": {"domain": [0, 10], "nice": false},
                 "axis": {"title": null, "values": [0,0.5,1,1.5,2,2.5,3,3.5,4,4.5,5,5.5,6,6.5,7,7.5,8,8.5,9,9.5,10],
                          "labelExpr": "datum.value % 2 === 0 ? format(datum.value, 'd') : ''",
                          "tickSize": {"condition": {"test": "datum.value % 2 === 0", "value": 5}, "value": 2.5}}},
           "order": {"field": "alt", "type": "quantitative"}
         }},
        {"mark": {"type": "line", "opacity": 0},
         "encoding": {
           "x": {"field": "v", "type": "quantitative",
                 "axis": {"orient": "top", "labels": false, "title": null, "values": [0.025,0.05,0.075,0.1,0.125,0.15,0.175,0.2,0.225,0.25,0.275,0.3,0.325,0.35,0.375,0.4,0.425,0.45,0.475,0.5,0.525,0.55,0.575,0.6,0.625,0.65,0.675],
                          "tickSize": {"condition": {"test": "abs(datum.value*10 - round(datum.value*10)) < 1e-6", "value": 5}, "value": 2.5}}},
           "y": {"field": "alt", "type": "quantitative",
                 "axis": {"orient": "right", "labels": false, "title": null, "values": [0,0.5,1,1.5,2,2.5,3,3.5,4,4.5,5,5.5,6,6.5,7,7.5,8,8.5,9,9.5,10],
                          "tickSize": {"condition": {"test": "datum.value % 2 === 0", "value": 5}, "value": 2.5}}},
           "order": {"field": "alt", "type": "quantitative"}
         }}
      ],
      "resolve": {"axis": {"x": "independent", "y": "independent"}}
    },
    {
      "width": 130, "height": 130.5, "title": "CLOUD",
      "data": {"values": [
        {"alt": 0, "v": 0.0415}, {"alt": 0.13, "v": 0.0578}, {"alt": 0.33, "v": 0.0782}, {"alt": 0.59, "v": 0.1104}, {"alt": 0.84, "v": 0.1396},
        {"alt": 1.15, "v": 0.163}, {"alt": 1.41, "v": 0.17}, {"alt": 1.66, "v": 0.1676}, {"alt": 1.99, "v": 0.1542}, {"alt": 2.38, "v": 0.1367},
        {"alt": 2.76, "v": 0.129}, {"alt": 3.4, "v": 0.1279}, {"alt": 4.17, "v": 0.129}, {"alt": 4.55, "v": 0.1308}, {"alt": 4.94, "v": 0.1396},
        {"alt": 5.32, "v": 0.1571}, {"alt": 5.83, "v": 0.1746}, {"alt": 6.34, "v": 0.1892}, {"alt": 6.85, "v": 0.2009}, {"alt": 7.37, "v": 0.2184},
        {"alt": 7.88, "v": 0.2389}, {"alt": 8.39, "v": 0.2593}, {"alt": 8.64, "v": 0.2657}, {"alt": 9.03, "v": 0.2693}, {"alt": 9.41, "v": 0.2669},
        {"alt": 9.8, "v": 0.2593}, {"alt": 10, "v": 0.2459}
      ]},
      "layer": [
        {"mark": {"type": "line", "color": "#ff0000", "strokeWidth": 1.6, "interpolate": "catmull-rom"},
         "encoding": {
           "x": {"field": "v", "type": "quantitative", "scale": {"domain": [0.042, 0.2715], "nice": false, "zero": false},
                 "axis": {"title": "CLOUD", "values": [0.05,0.06,0.07,0.08,0.09,0.1,0.11,0.12,0.13,0.14,0.15,0.16,0.17,0.18,0.19,0.2,0.21,0.22,0.23,0.24,0.25,0.26,0.27],
                          "labelExpr": "abs(datum.value*25 - round(datum.value*25)) < 1e-6 ? format(datum.value, '.2f') : ''",
                          "tickSize": {"condition": {"test": "abs(datum.value*25 - round(datum.value*25)) < 1e-6", "value": 5}, "value": 2.5}}},
           "y": {"field": "alt", "type": "quantitative", "scale": {"domain": [0, 10], "nice": false},
                 "axis": {"title": null, "values": [0,0.5,1,1.5,2,2.5,3,3.5,4,4.5,5,5.5,6,6.5,7,7.5,8,8.5,9,9.5,10],
                          "labelExpr": "datum.value % 2 === 0 ? format(datum.value, 'd') : ''",
                          "tickSize": {"condition": {"test": "datum.value % 2 === 0", "value": 5}, "value": 2.5}}},
           "order": {"field": "alt", "type": "quantitative"}
         }},
        {"mark": {"type": "line", "opacity": 0},
         "encoding": {
           "x": {"field": "v", "type": "quantitative",
                 "axis": {"orient": "top", "labels": false, "title": null, "values": [0.05,0.06,0.07,0.08,0.09,0.1,0.11,0.12,0.13,0.14,0.15,0.16,0.17,0.18,0.19,0.2,0.21,0.22,0.23,0.24,0.25,0.26,0.27],
                          "tickSize": {"condition": {"test": "abs(datum.value*25 - round(datum.value*25)) < 1e-6", "value": 5}, "value": 2.5}}},
           "y": {"field": "alt", "type": "quantitative",
                 "axis": {"orient": "right", "labels": false, "title": null, "values": [0,0.5,1,1.5,2,2.5,3,3.5,4,4.5,5,5.5,6,6.5,7,7.5,8,8.5,9,9.5,10],
                          "tickSize": {"condition": {"test": "datum.value % 2 === 0", "value": 5}, "value": 2.5}}},
           "order": {"field": "alt", "type": "quantitative"}
         }}
      ],
      "resolve": {"axis": {"x": "independent", "y": "independent"}}
    }
  ],
  "config": {
    "font": "Liberation Sans",
    "view": {"stroke": null},
    "axis": {"grid": false, "domainColor": "#222222", "domainWidth": 1.4, "tickColor": "#222222", "tickWidth": 1.1,
             "labelColor": "#111111", "labelFont": "Liberation Sans", "labelFlush": false, "labelOverlap": false, "labelPadding": 1.5,
             "titleFont": "Liberation Sans", "titleFontSize": 7.5, "titleFontWeight": "normal", "titleColor": "#000000"},
    "axisX": {"labelFontSize": 5.2, "titlePadding": 4, "labelPadding": 2},
    "axisY": {"labelFontSize": 6, "titlePadding": 6},
    "title": {"font": "Liberation Sans", "fontSize": 6.5, "fontWeight": "normal", "anchor": "start", "frame": "group", "offset": -3.5, "color": "#000000"},
    "legend": {"labelFont": "Liberation Sans", "labelColor": "#000000"}
  }
}
